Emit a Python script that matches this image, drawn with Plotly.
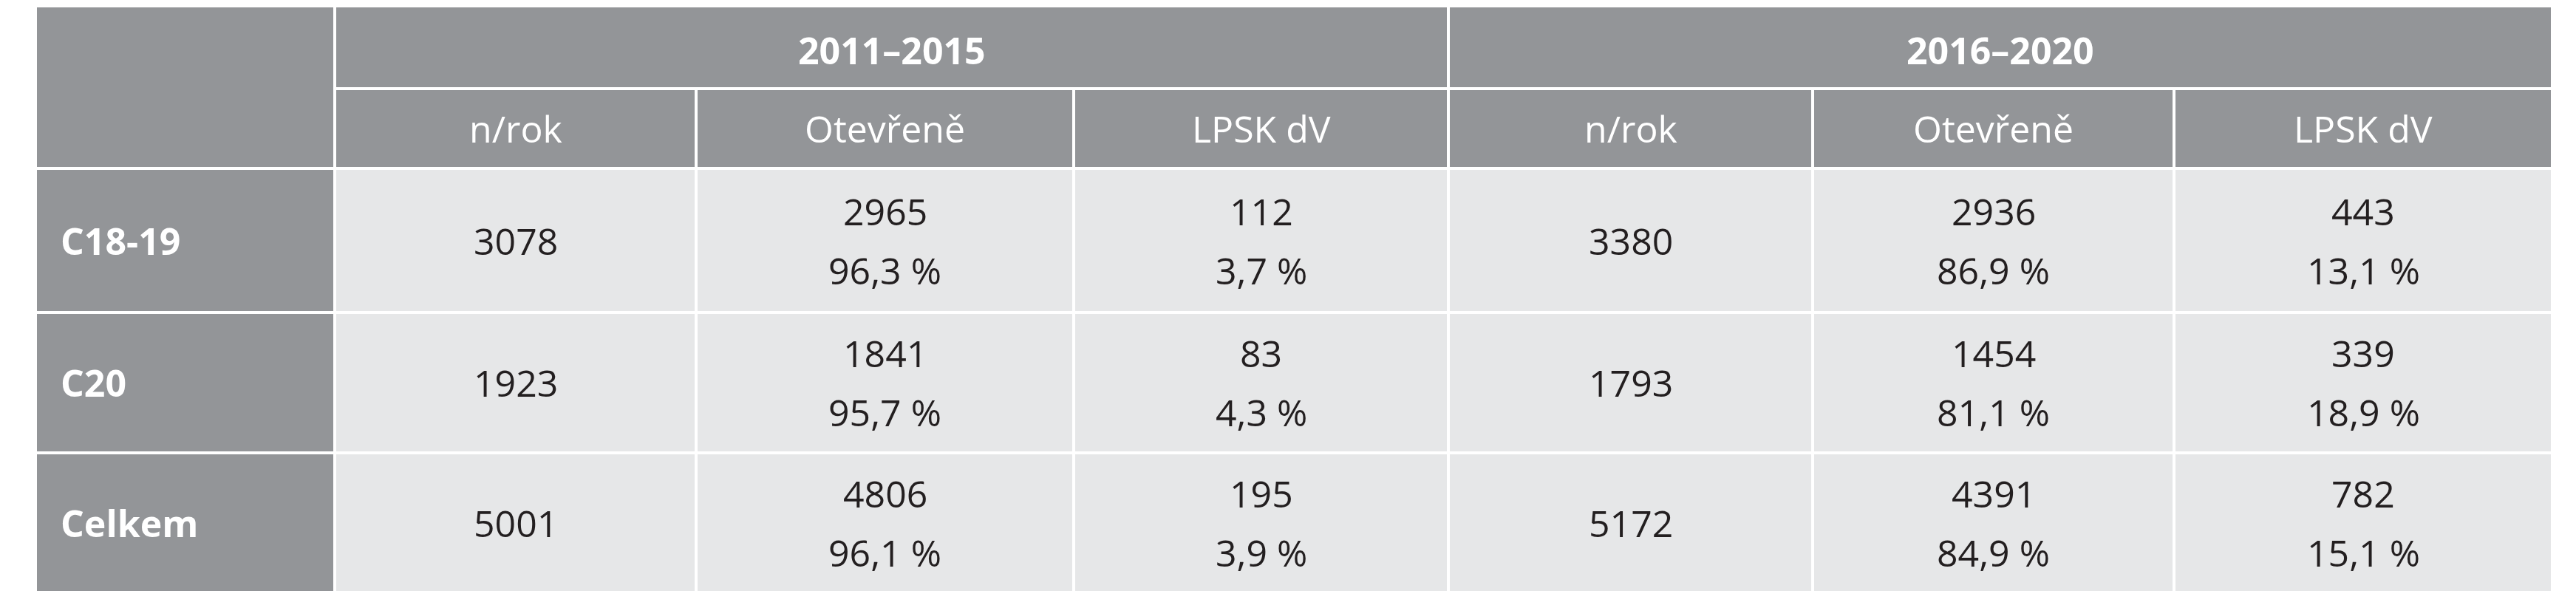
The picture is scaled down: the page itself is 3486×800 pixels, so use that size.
import plotly.graph_objs as go

W, H = 3486, 800

# data
skupiny = ['2011–2015', '2016–2020']
sloupce = ['n/rok', 'Otevřeně', 'LPSK dV', 'n/rok', 'Otevřeně', 'LPSK dV']
radky = ['C18-19', 'C20', 'Celkem']
n_rok_1 = [3078, 1923, 5001]
otevrene_1 = [2965, 1841, 4806]
otevrene_1_pct = ['96,3', '95,7', '96,1']
lpsk_1 = [112, 83, 195]
lpsk_1_pct = ['3,7', '4,3', '3,9']
n_rok_2 = [3380, 1793, 5172]
otevrene_2 = [2936, 1454, 4391]
otevrene_2_pct = ['86,9', '81,1', '84,9']
lpsk_2 = [443, 339, 782]
lpsk_2_pct = ['13,1', '18,9', '15,1']

GRAY = '#939598'
LIGHT = '#e6e7e8'
TEXT = '#231f20'
FONT = 'Open Sans'
FS = 50

# column edges and row edges in px (y from top)
hrany = [40, 445, 934, 1445, 1952, 2445, 2934, 3446]
radky_y = [0, 112, 220, 415, 605, 795]

sloupce_dat = [
    ([str(v) for v in n_rok_1], None),
    ([str(v) for v in otevrene_1], otevrene_1_pct),
    ([str(v) for v in lpsk_1], lpsk_1_pct),
    ([str(v) for v in n_rok_2], None),
    ([str(v) for v in otevrene_2], otevrene_2_pct),
    ([str(v) for v in lpsk_2], lpsk_2_pct),
]

shapes = []
annotations = []

def bunka(xa, xb, ya, yb, barva):
    shapes.append(dict(type='rect', xref='x', yref='y', x0=xa, x1=xb, y0=ya, y1=yb,
                       fillcolor=barva, line=dict(color='white', width=4), layer='below'))

def text(t, x, y, barva, xanchor='center'):
    annotations.append(dict(text=t, x=x, y=y, xref='x', yref='y', showarrow=False,
                            xanchor=xanchor, yanchor='middle',
                            font=dict(family=FONT, size=FS, color=barva)))

# corner cell spanning both header rows
bunka(hrany[0], hrany[1], radky_y[0], radky_y[2], GRAY)
# group headers
for i, s in enumerate(skupiny):
    xa, xb = hrany[1 + 3 * i], hrany[4 + 3 * i]
    bunka(xa, xb, radky_y[0], radky_y[1], GRAY)
    text(f'<b>{s}</b>', (xa + xb) / 2, (radky_y[0] + radky_y[1]) / 2 + 4, 'white')
# sub headers
for j, s in enumerate(sloupce):
    xa, xb = hrany[1 + j], hrany[2 + j]
    bunka(xa, xb, radky_y[1], radky_y[2], GRAY)
    text(s, (xa + xb) / 2, (radky_y[1] + radky_y[2]) / 2, 'white')
# body
for r, nazev in enumerate(radky):
    ya, yb = radky_y[2 + r], radky_y[3 + r]
    ym = (ya + yb) / 2
    bunka(hrany[0], hrany[1], ya, yb, GRAY)
    text(f'<b>{nazev}</b>', hrany[0] + 32, ym, 'white', 'left')
    for j, (cisla, pct) in enumerate(sloupce_dat):
        xa, xb = hrany[1 + j], hrany[2 + j]
        bunka(xa, xb, ya, yb, LIGHT)
        xm = (xa + xb) / 2
        if pct is None:
            text(cisla[r], xm, ym, TEXT)
        else:
            text(cisla[r], xm, ym - 40, TEXT)
            text(f'{pct[r]} %', xm, ym + 40, TEXT)

fig = go.Figure()
fig.update_layout(width=W, height=H, margin=dict(l=0, r=0, t=0, b=0),
                  paper_bgcolor='white', plot_bgcolor='white',
                  xaxis=dict(range=[0, W], visible=False, fixedrange=True),
                  yaxis=dict(range=[H, 0], visible=False, fixedrange=True),
                  shapes=shapes, annotations=annotations, showlegend=False)
fig.write_html('out.html')
